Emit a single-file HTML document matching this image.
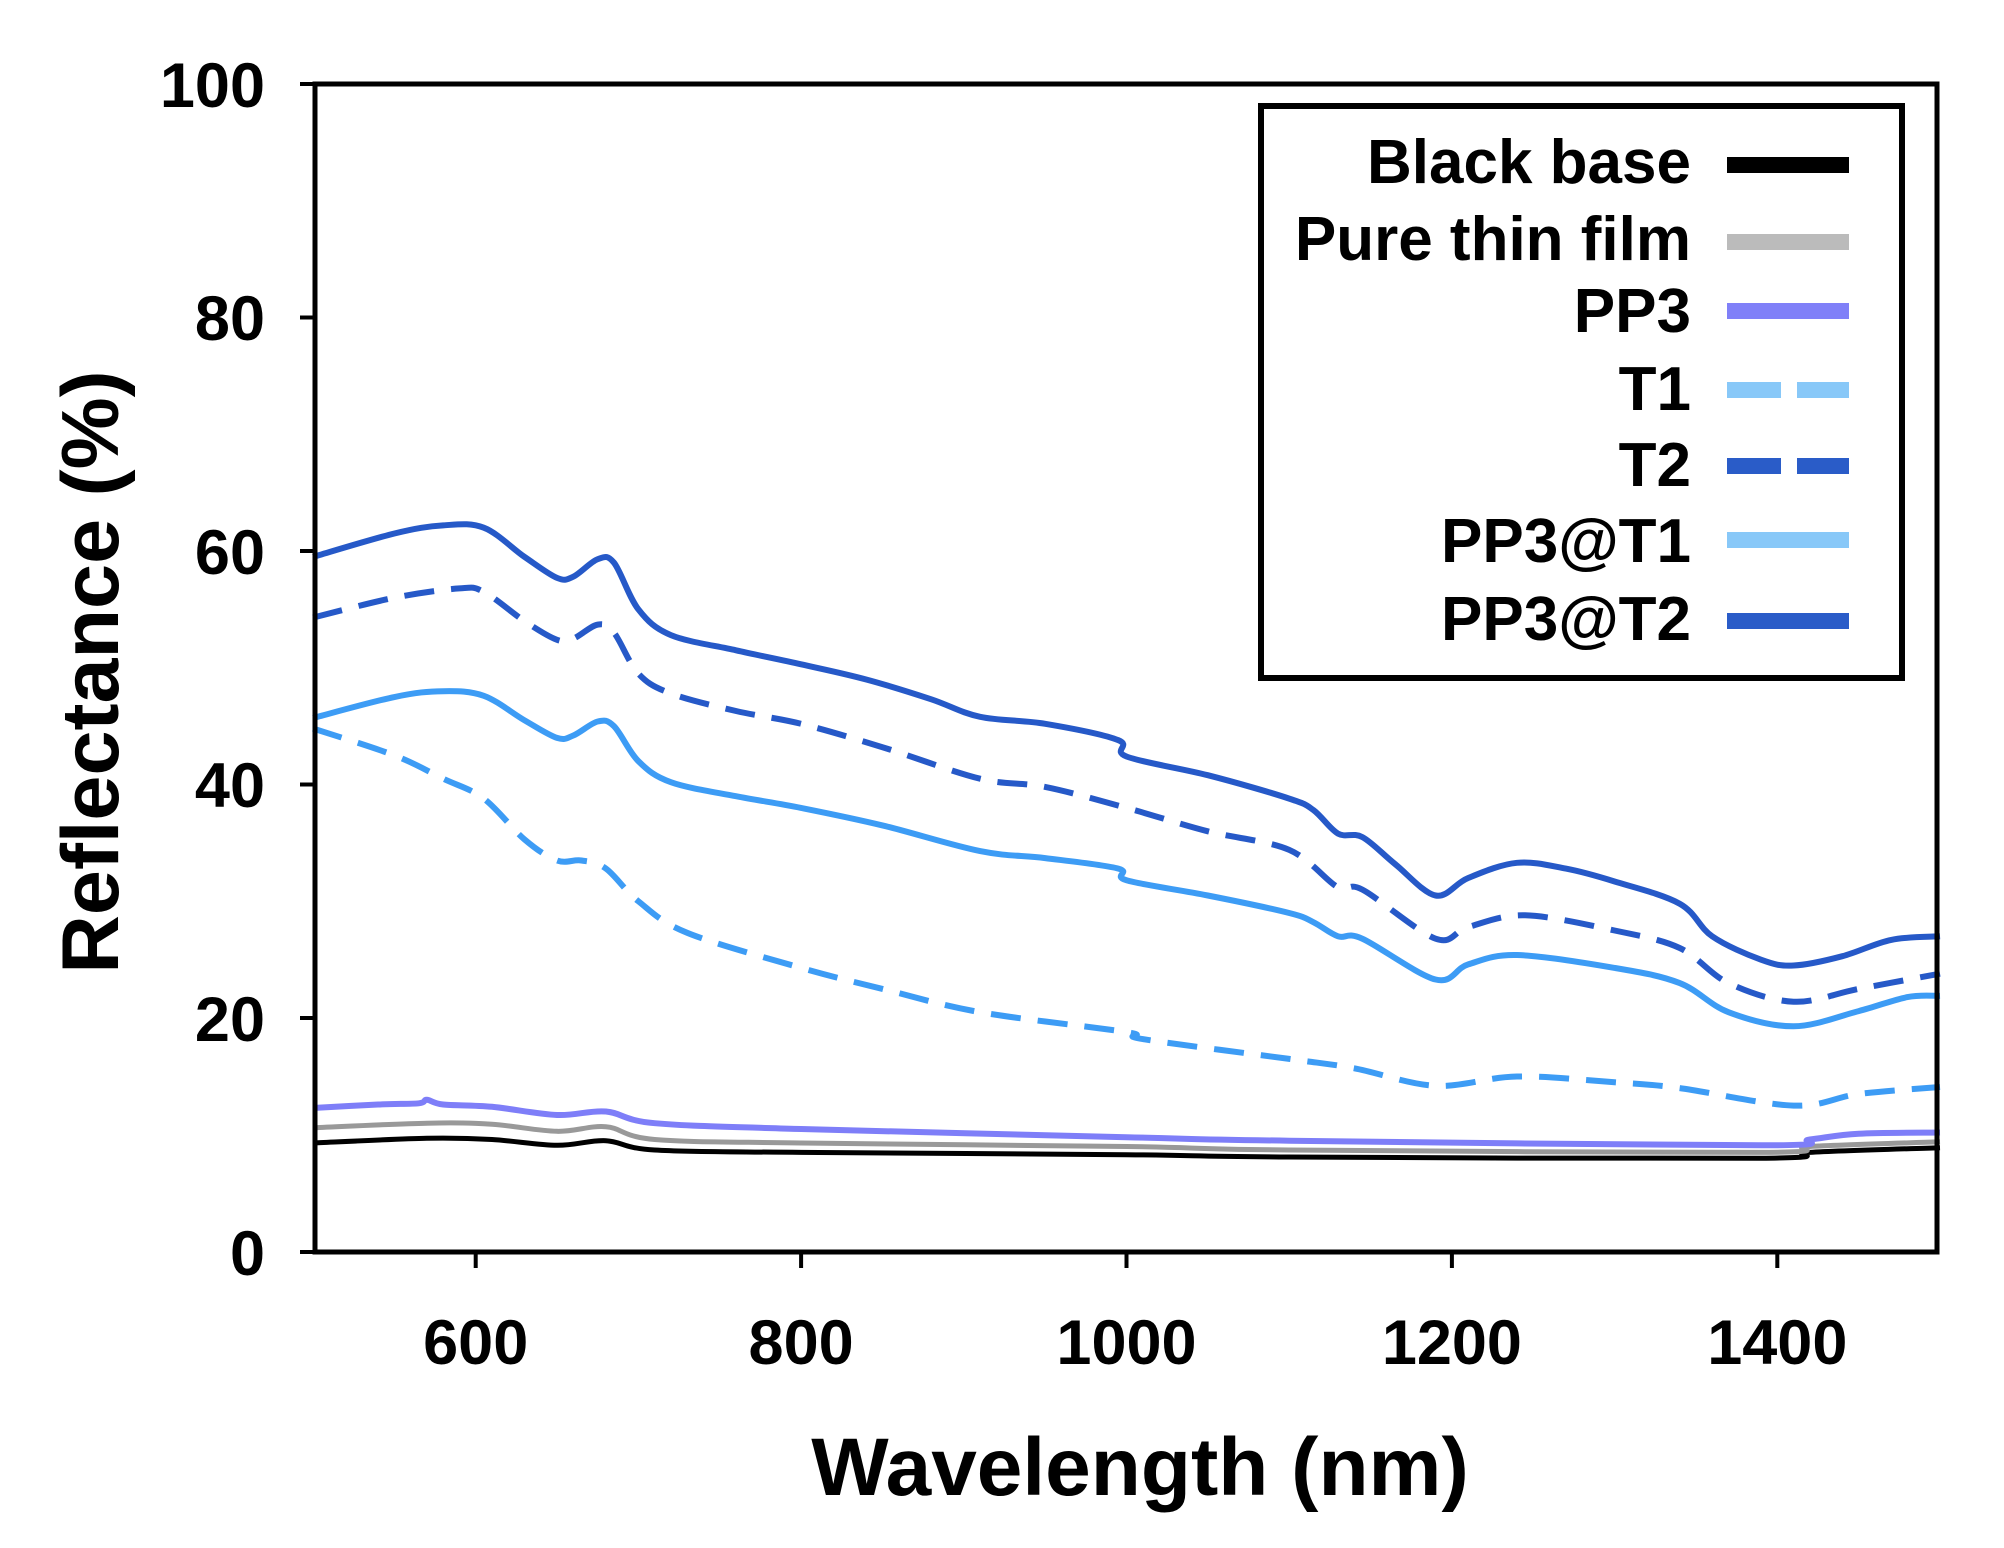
<!DOCTYPE html>
<html><head><meta charset="utf-8"><style>
html,body{margin:0;padding:0;background:#fff;}
svg{display:block;}
text{font-family:"Liberation Sans",Arial,sans-serif;font-weight:bold;fill:#000;}
</style></head><body>
<svg id="s" width="2004" height="1548" viewBox="0 0 2004 1548" xmlns="http://www.w3.org/2000/svg">
<g id="series" fill="none" stroke-linejoin="round" stroke-linecap="butt"></g>
<g stroke="#000" stroke-width="5" fill="none">
<rect x="315" y="84" width="1622" height="1168"/>
</g>
<g stroke="#000" stroke-width="4">
<line x1="300" y1="84" x2="315" y2="84"/>
<line x1="300" y1="317.5" x2="315" y2="317.5"/>
<line x1="300" y1="551" x2="315" y2="551"/>
<line x1="300" y1="784.5" x2="315" y2="784.5"/>
<line x1="300" y1="1018" x2="315" y2="1018"/>
<line x1="300" y1="1252" x2="315" y2="1252"/>
<line x1="475.7" y1="1252" x2="475.7" y2="1268"/>
<line x1="801.1" y1="1252" x2="801.1" y2="1268"/>
<line x1="1126.5" y1="1252" x2="1126.5" y2="1268"/>
<line x1="1451.9" y1="1252" x2="1451.9" y2="1268"/>
<line x1="1777.3" y1="1252" x2="1777.3" y2="1268"/>
</g>
<g font-size="63" text-anchor="end">
<text x="265" y="107">100</text>
<text x="265" y="340">80</text>
<text x="265" y="574">60</text>
<text x="265" y="807">40</text>
<text x="265" y="1041">20</text>
<text x="265" y="1275">0</text>
</g>
<g font-size="63" text-anchor="middle">
<text x="475.7" y="1364">600</text>
<text x="801.1" y="1364">800</text>
<text x="1126.5" y="1364">1000</text>
<text x="1451.9" y="1364">1200</text>
<text x="1777.3" y="1364">1400</text>
</g>
<text x="1140" y="1495" font-size="82" text-anchor="middle">Wavelength (nm)</text>
<text transform="translate(118,672) rotate(-90)" font-size="81" text-anchor="middle">Reflectance (%)</text>
<rect x="1261" y="106" width="641" height="572" fill="#fff" stroke="#000" stroke-width="6"/>
<g font-size="62" text-anchor="end">
<text x="1691" y="183">Black base</text>
<text x="1691" y="260">Pure thin film</text>
<text x="1691" y="332">PP3</text>
<text x="1691" y="410">T1</text>
<text x="1691" y="486">T2</text>
<text x="1691" y="562">PP3@T1</text>
<text x="1691" y="640">PP3@T2</text>
</g>
<g stroke-width="16">
<line x1="1727" y1="165" x2="1849" y2="165" stroke="#000"/>
<line x1="1727" y1="242" x2="1849" y2="242" stroke="#bbbbbb"/>
<line x1="1727" y1="311" x2="1849" y2="311" stroke="#8080f8"/>
<line x1="1727" y1="390" x2="1849" y2="390" stroke="#88c8f8" stroke-dasharray="54,16"/>
<line x1="1727" y1="466" x2="1849" y2="466" stroke="#2a5cc8" stroke-dasharray="54,16"/>
<line x1="1727" y1="540" x2="1849" y2="540" stroke="#88c8f8"/>
<line x1="1727" y1="621" x2="1849" y2="621" stroke="#2a5cc8"/>
</g>
</svg>
<script>
var X=function(w){return 313+(w-500)*1.627;},Y=function(r){return 1251.6-r*11.676;};
function P(d){var a=d.trim().split(/[\s,]+/),pts=[];for(var i=0;i<a.length;i+=2)pts.push([X(+a[i]),Y(+a[i+1])]);
var s='M'+pts[0][0].toFixed(1)+','+pts[0][1].toFixed(1);
for(var i=0;i<pts.length-1;i++){var p0=pts[i-1]||pts[i],p1=pts[i],p2=pts[i+1],p3=pts[i+2]||p2;var t=0.25;
var c1x=p1[0]+(p2[0]-p0[0])*t/1.5,c1y=p1[1]+(p2[1]-p0[1])*t/1.5,c2x=p2[0]-(p3[0]-p1[0])*t/1.5,c2y=p2[1]-(p3[1]-p1[1])*t/1.5;
s+='C'+c1x.toFixed(1)+','+c1y.toFixed(1)+' '+c2x.toFixed(1)+','+c2y.toFixed(1)+' '+p2[0].toFixed(1)+','+p2[1].toFixed(1);}
return s;}
var S=[
["500 9.3 570 9.7 610 9.6 650 9.1 680 9.5 710 8.7 800 8.5 1000 8.3 1100 8.1 1390 8 1420 8.5 1500 8.9","#000",5,""],
["500 10.6 570 11 610 10.9 650 10.3 680 10.7 710 9.6 800 9.3 1000 9.0 1100 8.7 1390 8.5 1420 9 1500 9.4","#999",5,""],
["500 12.3 540 12.6 565 12.7 570 13 580 12.6 610 12.4 650 11.7 680 12 710 11 800 10.5 1000 9.8 1100 9.5 1390 9.1 1420 9.6 1450 10.1 1500 10.2","#7e7ef8",6,""],
["500 44.8 550 42.5 580 40.5 605 38.8 630 35.3 650 33.5 665 33.5 680 32.8 700 30 730 27.3 800 24.3 850 22.5 910 20.5 1000 18.8 1010 18.2 1100 16.5 1140 15.7 1190 14.2 1240 15 1300 14.5 1340 14 1410 12.5 1450 13.5 1500 14.1","#3d9cf5",6,"30,17"],
["500 54.3 550 56 590 56.8 605 56.5 630 54 650 52.4 660 52.5 675 53.7 685 53 700 49.5 720 47.8 760 46.3 800 45.2 850 43.2 910 40.5 950 39.8 1000 38 1050 36 1100 34.4 1130 31.2 1145 31 1190 26.8 1210 27.8 1245 28.8 1300 27.5 1340 26 1370 23 1410 21.4 1450 22.5 1500 23.8","#2659c8",6,"30,17"],
["500 45.7 550 47.5 580 48 605 47.6 630 45.5 650 44 660 44.2 675 45.4 685 45 700 42 720 40.2 760 39 800 38 850 36.5 910 34.3 950 33.7 995 32.8 1000 31.8 1050 30.5 1100 29 1115 28.2 1130 27 1145 26.8 1190 23.3 1210 24.6 1240 25.4 1300 24.3 1340 23 1370 20.5 1410 19.3 1450 20.6 1480 21.8 1500 21.9","#3d9cf5",6,""],
["500 59.5 550 61.5 580 62.2 605 62 630 59.5 650 57.7 660 57.8 675 59.3 685 59 700 55 720 52.8 760 51.5 800 50.3 840 49 880 47.3 910 45.8 950 45.2 995 43.8 1000 42.4 1050 40.8 1100 38.8 1115 37.8 1130 35.8 1145 35.5 1165 33.2 1190 30.5 1210 32 1240 33.3 1270 32.8 1300 31.7 1340 29.8 1360 27 1390 25 1410 24.5 1440 25.3 1470 26.7 1500 27","#2659c8",6,""]];
var g=document.getElementById('series'),ns='http://www.w3.org/2000/svg';
S.forEach(function(s){var p=document.createElementNS(ns,'path');p.setAttribute('d',P(s[0]));p.setAttribute('stroke',s[1]);p.setAttribute('stroke-width',s[2]);if(s[3])p.setAttribute('stroke-dasharray',s[3]);g.appendChild(p);});
</script>
</body></html>
